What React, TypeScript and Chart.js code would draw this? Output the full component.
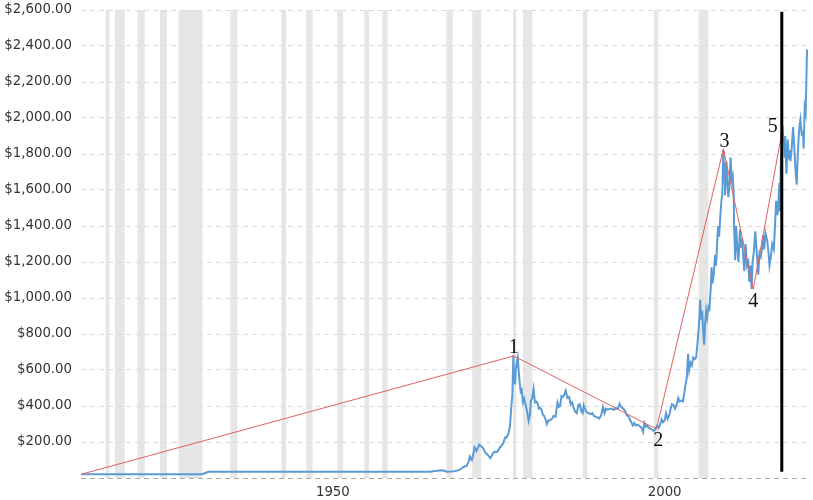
import React, { useEffect, useRef } from 'react';
import { Chart, registerables } from 'chart.js';

Chart.register(...registerables);

// Gold price (USD / oz)
const priceYears = [
  1914.95, 1933.15, 1934.1, 1967.5, 1968.2, 1968.6, 1969.2, 1969.6, 1970.0, 1970.6,
  1971.1, 1971.6, 1972.0, 1972.4, 1972.7, 1973.0, 1973.3, 1973.5, 1973.8, 1974.0,
  1974.2, 1974.5, 1974.9, 1975.2, 1975.5, 1975.8, 1976.1, 1976.6, 1976.9, 1977.2,
  1977.6, 1977.9, 1978.2, 1978.5, 1978.8, 1979.0, 1979.3, 1979.55, 1979.75, 1979.9,
  1980.05, 1980.15, 1980.3, 1980.45, 1980.55, 1980.72, 1980.85, 1981.0, 1981.15, 1981.3,
  1981.5, 1981.7, 1981.9, 1982.1, 1982.35, 1982.55, 1982.7, 1982.9, 1983.1, 1983.3,
  1983.5, 1983.7, 1983.9, 1984.1, 1984.3, 1984.5, 1984.7, 1984.9, 1985.1, 1985.3,
  1985.5, 1985.7, 1985.9, 1986.1, 1986.4, 1986.7, 1986.9, 1987.1, 1987.3, 1987.5,
  1987.7, 1987.95, 1988.2, 1988.45, 1988.7, 1988.9, 1989.1, 1989.35, 1989.6, 1989.85,
  1990.05, 1990.3, 1990.5, 1990.65, 1990.9, 1991.1, 1991.4, 1991.7, 1991.95, 1992.2,
  1992.5, 1992.8, 1993.0, 1993.3, 1993.55, 1993.8, 1994.0, 1994.3, 1994.6, 1994.9,
  1995.2, 1995.5, 1995.8, 1996.05, 1996.3, 1996.6, 1996.9, 1997.1, 1997.4, 1997.6,
  1997.85, 1998.05, 1998.3, 1998.5, 1998.8, 1999.1, 1999.35, 1999.6, 1999.8, 2000.0,
  2000.2, 2000.45, 2000.7, 2000.95, 2001.2, 2001.4, 2001.7, 2001.95, 2002.2, 2002.4,
  2002.6, 2002.85, 2003.05, 2003.3, 2003.55, 2003.75, 2003.95, 2004.2, 2004.4, 2004.65,
  2004.9, 2005.1, 2005.35, 2005.6, 2005.8, 2005.95, 2006.2, 2006.38, 2006.55, 2006.75,
  2006.95, 2007.15, 2007.4, 2007.6, 2007.8, 2007.95, 2008.1, 2008.2, 2008.35, 2008.5,
  2008.65, 2008.8, 2008.95, 2009.1, 2009.25, 2009.45, 2009.6, 2009.8, 2009.92, 2010.05,
  2010.25, 2010.45, 2010.6, 2010.75, 2010.9, 2011.05, 2011.25, 2011.4, 2011.55, 2011.67,
  2011.75, 2011.85, 2011.97, 2012.15, 2012.3, 2012.45, 2012.6, 2012.78, 2012.95, 2013.1,
  2013.25, 2013.32, 2013.48, 2013.62, 2013.8, 2013.97, 2014.2, 2014.35, 2014.52, 2014.7,
  2014.85, 2015.05, 2015.25, 2015.45, 2015.6, 2015.8, 2015.95, 2016.1, 2016.3, 2016.5,
  2016.7, 2016.95, 2017.15, 2017.35, 2017.5, 2017.7, 2017.85, 2018.05, 2018.3, 2018.5,
  2018.65, 2018.85, 2019.05, 2019.3, 2019.5, 2019.65, 2019.85, 2019.97, 2020.15, 2020.22,
  2020.35, 2020.5, 2020.6, 2020.72, 2020.85, 2020.95, 2021.02, 2021.2, 2021.4, 2021.55,
  2021.7, 2021.8, 2021.97, 2022.2, 2022.4, 2022.55, 2022.75, 2022.9, 2023.1, 2023.3,
  2023.5, 2023.7, 2023.8, 2023.95, 2024.1, 2024.2, 2024.3,
];
const prices = [
  20.67, 20.67, 35, 35, 39, 40, 43, 40, 35, 36,
  38, 41, 46, 58, 65, 66, 90, 120, 100, 130,
  170, 150, 185, 176, 165, 142, 132, 110, 133, 146,
  145, 162, 178, 190, 225, 225, 245, 290, 400, 460,
  680, 560, 520, 620, 640, 670, 600, 530, 480, 490,
  420, 440, 405, 375, 318, 350, 430, 445, 495, 420,
  425, 415, 385, 390, 380, 350, 345, 325, 300, 320,
  318, 325, 330, 345, 340, 420, 395, 400, 455, 450,
  460, 485, 445, 450, 410, 420, 395, 370, 360, 405,
  410, 370, 360, 405, 380, 365, 360, 355, 360, 345,
  340, 335, 330, 350, 395, 360, 385, 380, 385, 385,
  378, 388, 385, 412, 395, 385, 372, 350, 342, 325,
  308, 292, 305, 292, 296, 288, 280, 255, 305, 285,
  290, 280, 275, 268, 262, 270, 290, 278, 300, 325,
  310, 320, 360, 328, 350, 385, 410, 405, 385, 405,
  445, 425, 430, 425, 470, 510, 560, 690, 600, 640,
  625, 670, 660, 670, 750, 820, 900, 990, 880, 930,
  820, 740, 860, 930, 890, 950, 940, 1060, 1170, 1080,
  1130, 1240, 1180, 1300, 1400, 1340, 1460, 1540, 1580, 1820,
  1640, 1750, 1570, 1760, 1650, 1560, 1620, 1780, 1660, 1680,
  1580, 1390, 1210, 1400, 1280, 1200, 1380, 1280, 1330, 1220,
  1150, 1300, 1180, 1200, 1090, 1180, 1050, 1200, 1260, 1370,
  1270, 1130, 1250, 1230, 1270, 1350, 1270, 1360, 1320, 1250,
  1180, 1230, 1300, 1270, 1420, 1540, 1460, 1520, 1640, 1480,
  1730, 1820, 1960, 1880, 1870, 1780, 1900, 1690, 1880, 1770,
  1820, 1760, 1820, 1950, 1830, 1720, 1630, 1790, 1930, 1990,
  1910, 1920, 1830, 2060, 2030, 2200, 2380,
];

// Elliott-wave style annotation points
const waveYears = [1914.95, 1980.1, 2001.6, 2011.7, 2016.2, 2020.5];
const wavePrices = [20.67, 678, 272, 1829, 1049, 1916];
const waveLabels = ['', '1', '2', '3', '4', '5'];

// Vertical black marker
const markerYears = [2020.5, 2020.5];
const markerPrices = [2590, 35];

// Recession periods (shaded bands)
const recessionStarts = [
  1918.6, 1920.0, 1923.4, 1926.8, 1929.6, 1937.4, 1945.1, 1948.85, 1953.5, 1957.6,
  1960.3, 1969.95, 1973.85, 1980.0, 1981.5, 1990.5, 2001.2, 2007.95,
];
const recessionEnds = [
  1919.2, 1921.5, 1924.5, 1927.85, 1933.2, 1938.45, 1945.8, 1949.8, 1954.4, 1958.3,
  1961.1, 1970.9, 1975.2, 1980.5, 1982.9, 1991.2, 2001.9, 2009.45,
];

const xTickValues = [1950, 2000];
const yMin = 0;
const yMax = 2600;
const yStep = 200;

const fmtMoney = (v: number) => {
  const whole = Math.round(v).toString().replace(/\B(?=(\d{3})+(?!\d))/g, ',');
  return '$' + whole + '.00';
};

const bandsPlugin = {
  id: 'recessionBands',
  beforeDraw(chart: any) {
    const { ctx, chartArea, scales } = chart;
    const xs = scales.x;
    ctx.save();
    ctx.fillStyle = '#e6e6e6';
    recessionStarts.forEach((s, i) => {
      const x0 = xs.getPixelForValue(s);
      const x1 = xs.getPixelForValue(recessionEnds[i]);
      ctx.fillRect(x0, chartArea.top, Math.max(x1 - x0, 3), chartArea.bottom - chartArea.top);
    });
    ctx.restore();
  },
};

const labelOffsets: Record<string, [number, number]> = {
  '1': [0, -3],
  '2': [2, 17],
  '3': [1, -2],
  '4': [0, 18],
  '5': [-9, -1.5],
};

const waveLabelPlugin = {
  id: 'waveLabels',
  afterDatasetsDraw(chart: any) {
    const { ctx, scales } = chart;
    ctx.save();
    ctx.font = '20px "Liberation Serif", "Times New Roman", serif';
    ctx.fillStyle = '#111';
    ctx.textAlign = 'center';
    ctx.textBaseline = 'alphabetic';
    waveLabels.forEach((lab, i) => {
      if (!lab) return;
      const px = scales.x.getPixelForValue(waveYears[i]);
      const py = scales.y.getPixelForValue(wavePrices[i]);
      const off = labelOffsets[lab] || [0, 0];
      ctx.fillText(lab, px + off[0], py + off[1]);
    });
    ctx.restore();
  },
};

export default function App() {
  const ref = useRef<HTMLCanvasElement | null>(null);

  useEffect(() => {
    if (!ref.current) return;
    const tickFont = { family: '"DejaVu Sans", Verdana, sans-serif', size: 13.3 };
    const chart = new Chart(ref.current, {
      type: 'line',
      data: {
        datasets: [
          {
            label: 'marker',
            data: markerYears.map((x, i) => ({ x, y: markerPrices[i] })),
            borderColor: '#000',
            borderWidth: 3,
            pointRadius: 0,
            fill: false,
          },
          {
            label: 'waves',
            data: waveYears.map((x, i) => ({ x, y: wavePrices[i] })),
            borderColor: '#e06060',
            borderWidth: 1,
            pointRadius: 0,
            fill: false,
          },
          {
            label: 'Gold',
            data: priceYears.map((x, i) => ({ x, y: prices[i] })),
            borderColor: '#5b9bd5',
            borderWidth: 2,
            pointRadius: 0,
            fill: false,
            tension: 0,
          },
        ],
      },
      options: {
        animation: false,
        responsive: true,
        maintainAspectRatio: false,
        layout: { padding: { left: 3, top: 10, right: 5, bottom: 0 } },
        plugins: { legend: { display: false }, tooltip: { enabled: false } },
        scales: {
          x: {
            type: 'linear',
            min: 1914.9,
            max: 2024.45,
            grid: { display: false, drawTicks: false },
            border: { display: false },
            afterBuildTicks: (scale: any) => {
              scale.ticks = xTickValues.map((v) => ({ value: v }));
            },
            afterFit: (scale: any) => {
              scale.height = 22;
              scale.paddingLeft = 0;
              scale.paddingRight = 0;
            },
            ticks: {
              align: 'start',
              labelOffset: 2,
              padding: 7,
              maxRotation: 0,
              color: '#333',
              font: tickFont,
              callback: (v: any) => String(v),
            },
          },
          y: {
            type: 'linear',
            min: yMin,
            max: yMax,
            afterFit: (scale: any) => {
              scale.width = 78;
              scale.paddingTop = 0;
              scale.paddingBottom = 0;
            },
            grid: {
              drawTicks: false,
              color: (c: any) => (c.tick && c.tick.value === 0 ? '#a8a8a8' : '#dcdcdc'),
              lineWidth: 1,
            },
            border: { display: false, dash: [5, 4] },
            ticks: {
              stepSize: yStep,
              padding: 9,
              color: '#333',
              font: tickFont,
              callback: (v: any) => (Number(v) === 0 ? '' : fmtMoney(Number(v))),
            },
          },
        },
      },
      plugins: [bandsPlugin, waveLabelPlugin],
    } as any);
    return () => chart.destroy();
  }, []);

  return (
    <div style={{ position: 'fixed', left: 0, top: 0, width: 813, height: 500, background: '#fff' }}>
      <canvas ref={ref} />
    </div>
  );
}
